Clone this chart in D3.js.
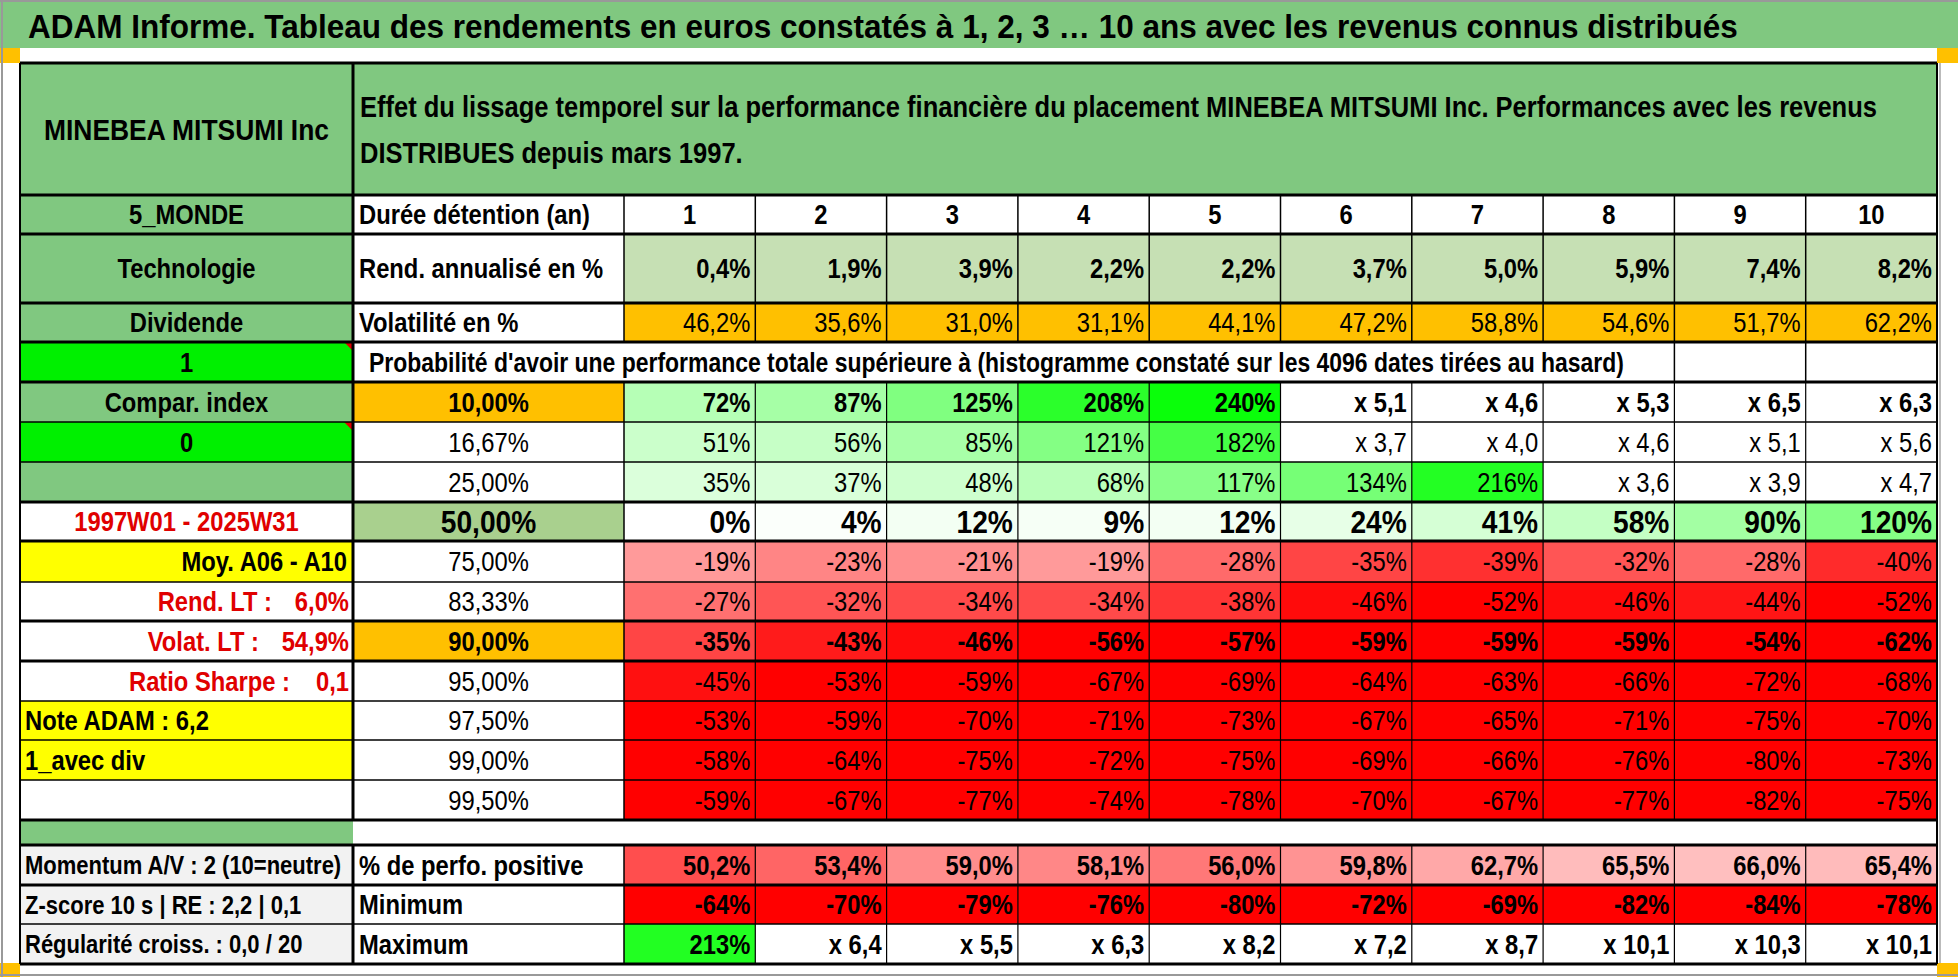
<!DOCTYPE html>
<html><head><meta charset="utf-8">
<script src="https://cdn.jsdelivr.net/npm/d3@7"></script>
<style>body{margin:0;background:#fff}svg{display:block}text{font-family:"Liberation Sans Narrow","Liberation Sans",Arial,sans-serif;}</style>
</head><body><svg id="c" width="1958" height="977"></svg>
<script>
// ---------- DATA ----------
const title = "ADAM Informe. Tableau des rendements en euros constatés à 1, 2, 3 … 10 ans avec les revenus connus distribués";
const headerLine1 = "Effet du lissage temporel sur la performance financière du placement MINEBEA MITSUMI Inc. Performances avec les revenus";
const headerLine2 = "DISTRIBUES depuis mars 1997.";
const years = [1,2,3,4,5,6,7,8,9,10];
const rendAnn = [0.4,1.9,3.9,2.2,2.2,3.7,5.0,5.9,7.4,8.2];
const volat = [46.2,35.6,31.0,31.1,44.1,47.2,58.8,54.6,51.7,62.2];
const quantileLabels = ["10,00%","16,67%","25,00%","50,00%","75,00%","83,33%","90,00%","95,00%","97,50%","99,00%","99,50%"];
// performance in % (values >= 250% are shown as multipliers "x m" with m = 1 + v/100)
const p10   = [72,87,125,208,240,410,360,430,550,530];
const p1667 = [51,56,85,121,182,270,300,360,410,460];
const p25   = [35,37,48,68,117,134,216,260,290,370];
const p50   = [0,4,12,9,12,24,41,58,90,120];
const p75   = [-19,-23,-21,-19,-28,-35,-39,-32,-28,-40];
const p8333 = [-27,-32,-34,-34,-38,-46,-52,-46,-44,-52];
const p90   = [-35,-43,-46,-56,-57,-59,-59,-59,-54,-62];
const p95   = [-45,-53,-59,-67,-69,-64,-63,-66,-72,-68];
const p975  = [-53,-59,-70,-71,-73,-67,-65,-71,-75,-70];
const p99   = [-58,-64,-75,-72,-75,-69,-66,-76,-80,-73];
const p995  = [-59,-67,-77,-74,-78,-70,-67,-77,-82,-75];
const pctPositive = [50.2,53.4,59.0,58.1,56.0,59.8,62.7,65.5,66.0,65.4];
const minimum = [-64,-70,-79,-76,-80,-72,-69,-82,-84,-78];
const maximum = [213,540,450,530,720,620,770,910,930,910];
const leftLabels = ["MINEBEA MITSUMI Inc","5_MONDE","Technologie","Dividende","1","Compar. index","0","","1997W01 - 2025W31","Moy. A06 - A10"];
const ltStats = [["Rend. LT :","6,0%"],["Volat. LT :","54,9%"],["Ratio Sharpe :","0,1"]];
const noteLabels = ["Note ADAM : 6,2","1_avec div"];
const bottomLeft = ["Momentum A/V : 2 (10=neutre)","Z-score 10 s | RE : 2,2 | 0,1","Régularité croiss. : 0,0 / 20"];
const bottomMid = ["% de perfo. positive","Minimum","Maximum"];
const probText = "Probabilité d'avoir une performance totale supérieure à (histogramme constaté sur les 4096 dates tirées au hasard)";

// ---------- LAYOUT ----------
const svg = d3.select("#c");
const GREEN="#80c880", LIME="#00f000", YEL="#ffff00", ORA="#ffc000", GREY="#f2f2f2";
const X0=20, X1=353, X2=624, XE=1937;
const SX = 0.88; // condensed look
const x = d3.scaleBand().domain(years).range([X2, XE]);
const rowEdges = [63,195,234,303,342,382,422,462,502,541,582,621,661,701,740,780,820,845,885,924,964];
const rowKeys = ["head","monde","tech","div","prob","q0","q1","q2","q3","q4","q5","q6","q7","q8","q9","q10","gap","pos","min","max"];
const Y = {}; rowKeys.forEach((k,i)=>Y[k]={y:rowEdges[i],h:rowEdges[i+1]-rowEdges[i]});

const gFill = svg.append("g"), gLine = svg.append("g"), gText = svg.append("g");
function rect(x0,y0,w,h,fill){ gFill.append("rect").attr("x",x0).attr("y",y0).attr("width",w).attr("height",h).attr("fill",fill); }
function rawText(str,xx,yy,anchor,o={}){
  gText.append("g").attr("transform",`translate(${xx},${yy}) scale(${o.sx||SX},1)`)
   .append("text").attr("dy","0.36em")
   .attr("text-anchor",anchor).attr("font-size",o.size||27).attr("font-weight",o.bold?"bold":"normal")
   .attr("fill",o.color||"#000").style("white-space","pre").text(str);
}
function txt(str,xx,row,anchor,o={}){ rawText(str,xx,Y[row].y+Y[row].h/2+(o.dy||0),anchor,o); }
function hline(y,x0,x1,w){ gLine.append("line").attr("x1",x0).attr("x2",x1).attr("y1",y).attr("y2",y).attr("stroke","#000").attr("stroke-width",w); }
function vline(xx,y0,y1,w){ gLine.append("line").attr("x1",xx).attr("x2",xx).attr("y1",y0).attr("y2",y1).attr("stroke","#000").attr("stroke-width",w); }

// page frame / title
rect(0,2,1958,46,GREEN);
rawText(title,28,26,"start",{size:33,sx:0.955,bold:true});
rect(0,48,20,15,ORA); rect(1937,48,21,15,ORA); rect(0,963,20,14,ORA); rect(1937,963,21,14,ORA);
gLine.append("line").attr("x1",2).attr("x2",2).attr("y1",0).attr("y2",977).attr("stroke","#999").attr("stroke-width",2);
gLine.append("line").attr("x1",0).attr("x2",1958).attr("y1",1).attr("y2",1).attr("stroke","#999").attr("stroke-width",2);
gLine.append("line").attr("x1",0).attr("x2",1958).attr("y1",975).attr("y2",975).attr("stroke","#999").attr("stroke-width",2);
gLine.append("line").attr("x1",1940).attr("x2",1940).attr("y1",63).attr("y2",963).attr("stroke","#bbb").attr("stroke-width",2);

// colour scales
const fmt1 = v => v.toFixed(1).replace(".",",");
const greenC = v => d3.interpolateRgb("#ffffff","#00ff00")(Math.min(1,v/250));
const redC = v => d3.interpolateRgb("#ffffff","#ff0000")(Math.min(1,-v/48));
const perfColor = v => v>=250 ? "#ffffff" : (v>=0 ? greenC(v) : redC(v));
const perfText = v => v>=250 ? "x "+fmt1(1+v/100) : String(v)+"%";
const posC = d3.scaleLinear().domain([50,66]).range([0.7,0.25]).clamp(true);

// header row
rect(X0,Y.head.y,XE-X0,Y.head.h,GREEN);
txt(leftLabels[0],(X0+X1)/2,"head","middle",{bold:true,size:30});
txt(headerLine1,360,"head","start",{bold:true,size:29,dy:-22});
txt(headerLine2,360,"head","start",{bold:true,size:29,dy:24});

// left column
const leftRows = ["monde","tech","div","prob","q0","q1","q2","q3","q4"];
const leftFills = [GREEN,GREEN,GREEN,LIME,GREEN,LIME,GREEN,"#ffffff",YEL];
leftRows.forEach((r,i)=>{
  rect(X0,Y[r].y,X1-X0,Y[r].h,leftFills[i]);
  const lab = leftLabels[i+1];
  if(r==="q4") txt(lab,X1-6,r,"end",{bold:true});
  else txt(lab,(X0+X1)/2,r,"middle",{bold:true,color:r==="q3"?"#e00000":"#000"});
});
["prob","q1"].forEach(r=>gFill.append("path").attr("d",`M${X1-9},${Y[r].y} L${X1},${Y[r].y} L${X1},${Y[r].y+9}Z`).attr("fill","#e00000"));
["q5","q6","q7"].forEach((r,i)=>{
  txt(ltStats[i][1],X1-4,r,"end",{bold:true,color:"#e00000"});
  txt(ltStats[i][0],[272,259,290][i],r,"end",{bold:true,color:"#e00000"});
});
["q8","q9"].forEach((r,i)=>{ rect(X0,Y[r].y,X1-X0,Y[r].h,YEL); txt(noteLabels[i],X0+5,r,"start",{bold:true}); });
rect(X0,Y.gap.y,X1-X0,Y.gap.h,GREEN);
["pos","min","max"].forEach((r,i)=>{ rect(X0,Y[r].y,X1-X0,Y[r].h,GREY); txt(bottomLeft[i],X0+5,r,"start",{bold:true,size:25});
  txt(bottomMid[i],X1+6,r,"start",{bold:true}); });

// second column labels
txt("Durée détention (an)",X1+6,"monde","start",{bold:true});
txt("Rend. annualisé en %",X1+6,"tech","start",{bold:true});
txt("Volatilité en %",X1+6,"div","start",{bold:true});
txt(probText,X1+16,"prob","start",{bold:true,size:27,sx:0.85});

// year header / rend / vol
years.forEach((yv,i)=>{
  txt(String(yv),x(yv)+x.bandwidth()/2,"monde","middle",{bold:true});
  rect(x(yv),Y.tech.y,x.bandwidth(),Y.tech.h,"#c6e0b4");
  txt(fmt1(rendAnn[i])+"%",x(yv)+x.bandwidth()-5,"tech","end",{bold:true});
  rect(x(yv),Y.div.y,x.bandwidth(),Y.div.h,ORA);
  txt(fmt1(volat[i])+"%",x(yv)+x.bandwidth()-5,"div","end",{});
});

// quantile rows
const qRows = [p10,p1667,p25,p50,p75,p8333,p90,p95,p975,p99,p995];
qRows.forEach((arr,qi)=>{
  const r="q"+qi, bold = (qi===0||qi===3||qi===6), big = qi===3;
  const labFill = qi===0||qi===6 ? ORA : (qi===3 ? "#a9d08e" : "#ffffff");
  rect(X1,Y[r].y,X2-X1,Y[r].h,labFill);
  txt(quantileLabels[qi],(X1+X2)/2,r,"middle",{bold:bold,size:big?32:27});
  arr.forEach((v,i)=>{
    rect(x(years[i]),Y[r].y,x.bandwidth(),Y[r].h,perfColor(v));
    txt(perfText(v),x(years[i])+x.bandwidth()-5,r,"end",{bold:bold,size:big?32:27});
  });
});

// bottom rows
years.forEach((yv,i)=>{
  rect(x(yv),Y.pos.y,x.bandwidth(),Y.pos.h,d3.interpolateRgb("#ffffff","#ff0000")(posC(pctPositive[i])));
  txt(fmt1(pctPositive[i])+"%",x(yv)+x.bandwidth()-5,"pos","end",{bold:true});
  rect(x(yv),Y.min.y,x.bandwidth(),Y.min.h,perfColor(minimum[i]));
  txt(perfText(minimum[i]),x(yv)+x.bandwidth()-5,"min","end",{bold:true});
  rect(x(yv),Y.max.y,x.bandwidth(),Y.max.h,maximum[i]>=250?"#fff":"#22ff22");
  txt(perfText(maximum[i]),x(yv)+x.bandwidth()-5,"max","end",{bold:true});
});

// grid lines
const thick = new Set([63,195,234,303,342,382,502,541,621,661,820,845,885,964]);
rowEdges.forEach(e=>{ hline(e,X0,XE,thick.has(e)?3:1.5); });
vline(X0,63,964,2); vline(XE,63,964,2);
vline(X1,63,820,3); vline(X1,845,964,3);
vline(X2,195,342,1.5); vline(X2,382,820,1.5); vline(X2,845,964,1.5);
years.slice(1).forEach(yv=>{
  vline(x(yv),195,342,1.5); vline(x(yv),382,820,1.2); vline(x(yv),845,964,1.2);
});
vline(x(9),342,382,1.5); vline(x(10),342,382,1.5);
</script></body></html>
